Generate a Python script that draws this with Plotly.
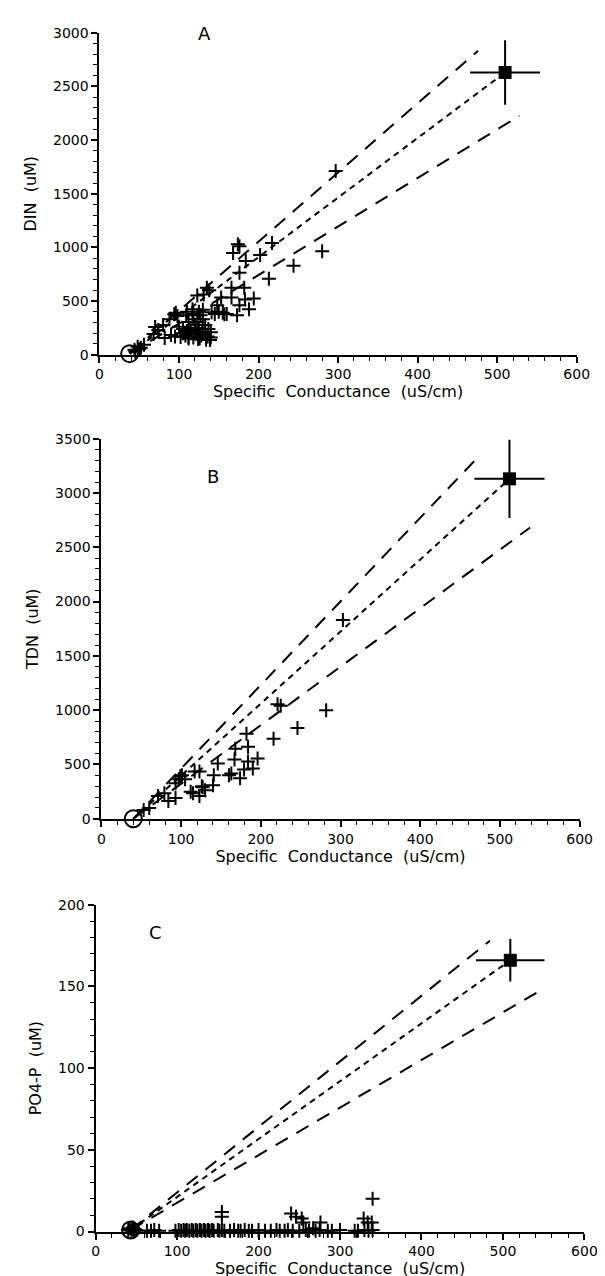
import plotly.graph_objects as go

# ---------------- data ----------------
# Panel A: Specific conductance (uS/cm) vs DIN (uM)
sc_A = [44, 48, 52, 56, 45, 50,
        68, 70, 74, 80, 82, 88, 90, 94, 96, 98,
        102, 105, 109, 112, 112, 117, 117, 121, 123, 123, 124, 127, 129, 133, 135, 137, 139, 141,
        148, 153, 157, 166, 166, 168, 173, 174, 176, 176, 176, 182, 183, 184, 188, 194, 202, 213,
        217, 244, 280, 297,
        105, 108, 110, 114, 115, 118, 120, 125, 128, 130, 132, 136, 140, 118, 125, 130, 100, 95,
        110, 112, 126, 134, 140, 120, 150, 155, 160, 145, 138, 131]
din_A = [46, 74, 64, 92, 30, 50,
         193, 258, 230, 276, 156, 331, 184, 377, 390, 360,
         166, 239, 368, 166, 304, 423, 331, 193, 552, 304, 147, 368, 212, 276, 625, 239, 138, 396,
         460, 534, 377, 534, 625, 948, 368, 1030, 1010, 460, 763, 625, 515, 874, 423, 524, 930, 708,
         1040, 828, 965, 1711,
         200, 180, 220, 250, 200, 160, 280, 250, 180, 330, 200, 170, 210, 380, 400, 420, 260, 170,
         400, 150, 150, 140, 160, 230, 400, 390, 380, 380, 600, 560]

# Panel B: Specific conductance vs TDN (uM)
sc_B = [53, 60, 71, 79, 84, 93, 93, 97, 99, 101, 105, 112, 115, 117, 123, 123, 126, 127, 130,
        140, 141, 146, 160, 163, 167, 168, 174, 179, 182, 184, 184, 190, 196, 216, 221, 225,
        246, 282, 303]
tdn_B = [80, 100, 209, 236, 164, 191, 327, 364, 391, 400, 364, 250, 236, 436, 436, 209, 300, 290, 264,
         309, 400, 509, 400, 418, 545, 645, 373, 455, 782, 664, 527, 464, 555, 736, 1055, 1040,
         836, 1000, 1830]

# Panel C: Specific conductance vs PO4-P (uM)
sc_C = [40, 42, 44, 45, 46, 47, 48, 50, 63, 68, 72, 78, 98, 102, 105, 108, 110, 112, 115, 118, 120,
        123, 125, 128, 130,
        133, 135, 138, 140, 143, 145, 150, 152, 155, 158, 165, 170, 175, 178, 183, 188, 192, 200,
        208, 215, 222, 226, 232, 236, 242, 250, 258, 262, 270, 275, 285, 290, 300, 318, 322, 330,
        335, 340,
        155, 155, 240, 246, 253, 255, 267, 276, 329, 334, 339, 340]
po4_C = [1, 2, 0.5, 1.5, 2.5, 0.5, 1.5, 1, 0.5, 0.5, 1, 0.5, 0.5, 1, 0.5, 1, 0.5, 1, 0.5, 1, 0.5,
         1, 0.5, 1, 0.5,
         1, 0.5, 1, 0.5, 1, 0.5, 1, 0.5, 1, 0.5, 0.5, 1, 0.5, 0.5, 1, 0.5, 0.5, 1,
         0.5, 0.5, 1, 0.5, 0.5, 1, 0.5, 0.5, 1, 0.5, 0.5, 1, 0.5, 0.5, 1, 0.5, 0.5, 1,
         0.5, 1,
         12, 9, 11, 9, 8, 5.5, 2, 5.5, 8, 5.5, 5.5, 20]

# End members: [A, B, C]
low_sc = [38, 40, 43]
low_val = [10, 0, 1]
high_sc = [510, 512, 509]
high_val = [2630, 3130, 166]
err_sc = [44, 44, 42]
err_val = [300, 360, 13]
# Mixing-line envelope end points
upper_end_sc = [476, 471, 484]
upper_end_val = [2833, 3318, 178]
lower_end_sc = [528, 538, 551]
lower_end_val = [2226, 2682, 149]

y_titles = ["DIN  (uM)", "TDN  (uM)", "PO4-P  (uM)"]
y_ranges = [[0, 3000], [0, 3500], [0, 200]]
y_dticks = [500, 500, 50]
y_minor = [100, 100, 10]
panel_letters = ["A", "B", "C"]
letter_pos = [(132, 2990), (140, 3150), (74, 183)]

x_domains = [[90 / 605, 581 / 605], [92 / 605, 584 / 605], [86 / 605, 589 / 605]]
y_domains = [[1 - 343 / 1276, 1 - 17 / 1276], [1 - 813 / 1276, 1 - 428 / 1276], [1 - 1231 / 1276, 1 - 900 / 1276]]

FONT = "DejaVu Sans"

fig = go.Figure()
series = [(sc_A, din_A), (sc_B, tdn_B), (sc_C, po4_C)]

for i in range(3):
    xa = "x" if i == 0 else f"x{i+1}"
    ya = "y" if i == 0 else f"y{i+1}"
    xs, ys = series[i]
    # mixing lines
    fig.add_trace(go.Scatter(x=[low_sc[i], upper_end_sc[i]], y=[low_val[i], upper_end_val[i]],
                             mode="lines", line=dict(color="black", width=2, dash="14px,10px"),
                             xaxis=xa, yaxis=ya, showlegend=False, hoverinfo="skip"))
    fig.add_trace(go.Scatter(x=[low_sc[i], lower_end_sc[i]], y=[low_val[i], lower_end_val[i]],
                             mode="lines", line=dict(color="black", width=2, dash="14px,10px"),
                             xaxis=xa, yaxis=ya, showlegend=False, hoverinfo="skip"))
    fig.add_trace(go.Scatter(x=[low_sc[i], high_sc[i]], y=[low_val[i], high_val[i]],
                             mode="lines", line=dict(color="black", width=2, dash="6px,5px"),
                             xaxis=xa, yaxis=ya, showlegend=False, hoverinfo="skip"))
    # samples
    fig.add_trace(go.Scatter(x=xs, y=ys, mode="markers",
                             marker=dict(symbol="cross-thin", size=10, line=dict(color="black", width=2)),
                             xaxis=xa, yaxis=ya, showlegend=False, cliponaxis=False))
    # low end member (open circle)
    fig.add_trace(go.Scatter(x=[low_sc[i]], y=[low_val[i]], mode="markers",
                             marker=dict(symbol="circle-open", size=17, color="black", line=dict(color="black", width=2)),
                             xaxis=xa, yaxis=ya, showlegend=False, cliponaxis=False))
    # high end member with error bars
    fig.add_trace(go.Scatter(x=[high_sc[i]], y=[high_val[i]], mode="markers",
                             marker=dict(symbol="square", size=13, color="black"),
                             error_x=dict(type="data", array=[err_sc[i]], color="black", thickness=2, width=0),
                             error_y=dict(type="data", array=[err_val[i]], color="black", thickness=2, width=0),
                             xaxis=xa, yaxis=ya, showlegend=False, cliponaxis=False))
    fig.add_annotation(x=letter_pos[i][0], y=letter_pos[i][1], xref=xa, yref=ya, text=panel_letters[i],
                       showarrow=False, font=dict(family=FONT, size=18, color="black"))

axis_common = dict(showline=True, linecolor="black", linewidth=2, ticks="outside", ticklen=6,
                   tickwidth=1.5, tickcolor="black", showgrid=False, zeroline=False,
                   tickfont=dict(family=FONT, size=14, color="black"))

layout = dict(width=605, height=1276, margin=dict(l=0, r=0, t=0, b=0),
              paper_bgcolor="white", plot_bgcolor="white", showlegend=False)
for i in range(3):
    xkey = "xaxis" if i == 0 else f"xaxis{i+1}"
    ykey = "yaxis" if i == 0 else f"yaxis{i+1}"
    ya = "y" if i == 0 else f"y{i+1}"
    xa = "x" if i == 0 else f"x{i+1}"
    layout[xkey] = dict(axis_common, domain=x_domains[i], range=[0, 600], dtick=100, tick0=0,
                        minor=dict(ticks="outside", ticklen=4, dtick=20, tickcolor="black", tickwidth=1.2),
                        anchor=ya,
                        title=dict(text="Specific  Conductance  (uS/cm)", standoff=2,
                                   font=dict(family=FONT, size=16, color="black")))
    layout[ykey] = dict(axis_common, domain=y_domains[i], range=y_ranges[i], dtick=y_dticks[i], tick0=0,
                        minor=dict(ticks="outside", ticklen=4, dtick=y_minor[i], tickcolor="black", tickwidth=1.2),
                        anchor=xa,
                        title=dict(text=y_titles[i], standoff=12,
                                   font=dict(family=FONT, size=16, color="black")))
fig.update_layout(**layout)

fig.write_html("out.html")
